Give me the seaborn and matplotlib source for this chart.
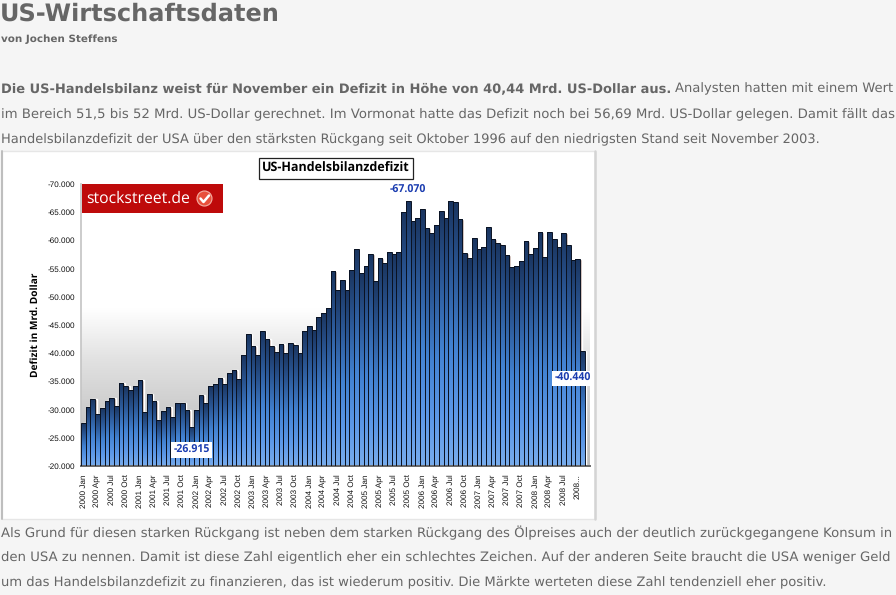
import numpy as np
import pandas as pd
import matplotlib
matplotlib.use('Agg')
import matplotlib.pyplot as plt
import seaborn as sns
from matplotlib.colors import LinearSegmentedColormap
from matplotlib.patches import Rectangle, Circle
from matplotlib.ticker import FuncFormatter

# -------------------------
# Data
# -------------------------
deficit = [
    -27550, -30500, -31800, -29300, -30250, -31450, -32000, -30550, -34650, -34100, -33400, -34150,
    -35300, -29600, -32850, -31500, -28150, -29700, -30400, -28600, -31200, -31200, -29900, -26915,
    -29950, -32500, -31150, -34180, -34540, -35550, -34540, -36430, -37000, -35420, -39680, -43350,
    -41220, -39730, -43880, -42460, -41220, -40210, -41570, -39970, -41860, -41450, -40030, -43990,
    -44760, -44050, -46360, -47190, -47960, -54520, -51150, -52920, -51150, -54700, -58420, -54170,
    -55520, -57530, -52800, -56820, -55930, -57890, -57530, -57890, -64980, -67070, -63490, -63910,
    -65510, -62250, -61250, -62680, -65160, -63910, -66900, -66750, -63790, -57710, -56820, -60370,
    -58420, -58780, -62320, -60190, -59480, -59130, -57360, -55230, -55410, -56290, -59890, -57530,
    -58650, -61490, -57000, -61490, -60190, -58880, -61370, -59130, -56470, -56650, -40440,
]
month_names = ['Jan', 'Feb', 'Mrz', 'Apr', 'Mai', 'Jun', 'Jul', 'Aug', 'Sep', 'Okt', 'Nov', 'Dez']
months = [f'{2000 + i // 12} {month_names[i % 12]}' for i in range(len(deficit))]
tick_pos = list(range(0, 105, 3)) + [105]
tick_labels = [f'{2000 + i // 12} {["Jan", "Apr", "Jul", "Oct"][(i % 12) // 3]}' for i in range(0, 105, 3)] + ['2008...']
y_ticks = [-70000, -65000, -60000, -55000, -50000, -45000, -40000, -35000, -30000, -25000, -20000]

df = pd.DataFrame({'month': months, 'deficit': deficit})


def german(v, pos=None):
    return f'{v:,.0f}'.replace(',', '.')


sns.set_style('white')
plt.rcParams['font.family'] = ['Liberation Sans', 'DejaVu Sans']
plt.rcParams['text.hinting'] = 'no_hinting'

W, H = 896, 595
fig = plt.figure(figsize=(W / 100, H / 100), dpi=100, facecolor='#F5F5F5')

# page layer in pixel coordinates
page = fig.add_axes([0, 0, 1, 1], zorder=0)
page.set_xlim(0, W)
page.set_ylim(H, 0)
page.axis('off')
page.add_patch(Rectangle((1.5, 150.5), 593.5, 368, facecolor='white', edgecolor='#E6E6E6', linewidth=1))
page.plot([1.5, 1.5], [150.5, 518.5], color='#BDBDBD', linewidth=1.4)
page.plot([595, 595], [150.5, 518.5], color='#D4D4D4', linewidth=1.8)

# -------------------------
# Bar chart
# -------------------------
ax = fig.add_axes([81 / W, 1 - 466 / H, 508.5 / W, 282 / H], zorder=1)
ax.patch.set_alpha(0)

bg_cmap = LinearSegmentedColormap.from_list('bg', [(0, '#FFFFFF'), (0.44, '#FFFFFF'), (0.62, '#E2E2E2'),
                                                   (0.82, '#CACACA'), (1, '#BABABA')])
ax.imshow(np.linspace(0, 1, 256).reshape(-1, 1), cmap=bg_cmap, aspect='auto', extent=(0, 1, 0, 1),
          transform=ax.transAxes, zorder=0)

# tan shadow that sits just right of every bar
ax.bar(np.arange(len(deficit)) + 0.35, deficit, width=1, color='#C9B6B0', zorder=1)

sns.barplot(data=df, x='month', y='deficit', ax=ax, width=1, color='#2a5590', saturation=1,
            edgecolor='#0A1222', linewidth=0.7, zorder=3)

bar_cmap = LinearSegmentedColormap.from_list('bar', [(0, '#1A3560'), (0.25, '#2A5694'), (0.55, '#4282D2'),
                                                     (0.8, '#5C98E8'), (1, '#78ACEC')])
grad = np.linspace(0, 1, 128).reshape(-1, 1)
for bar, val in zip(ax.patches[len(deficit):], deficit):
    x0 = bar.get_x()
    img = ax.imshow(grad, cmap=bar_cmap, aspect='auto', zorder=2,
                    extent=(x0, x0 + bar.get_width(), -20000, val))
    img.set_clip_path(bar)
    bar.set_facecolor('none')

ax.set_xlim(-0.5, 107.5)
ax.set_ylim(-20000, -70000)
ax.set_xlabel('')
ax.set_ylabel('Defizit in Mrd. Dollar', fontsize=7.3, fontweight='bold', color='black', labelpad=5,
              fontfamily=['Open Sans', 'DejaVu Sans'])
ax.set_xticks(tick_pos)
ax.set_xticklabels(tick_labels, rotation=90, fontsize=5.9, color='#111111', fontweight='normal')
ax.set_yticks(y_ticks)
ax.yaxis.set_major_formatter(FuncFormatter(german))
ax.tick_params(axis='x', length=0, pad=6)
ax.tick_params(axis='y', length=3, width=0.6, color='#888888', labelsize=5.9, labelcolor='#111111', pad=1.5)
for side in ['top', 'right']:
    ax.spines[side].set_visible(False)
ax.spines['left'].set_color('#C4C4C4')
ax.spines['left'].set_linewidth(1.2)
ax.spines['bottom'].set_color('#666666')
ax.spines['bottom'].set_linewidth(1.4)

# value labels
hi = int(np.argmin(deficit))
lo = int(np.argmax(deficit))
last = len(deficit) - 1
blue = '#1A3CB0'
label_font = dict(ha='center', va='center', fontsize=7.6, fontweight='bold', color=blue, zorder=6,
                  annotation_clip=False, fontfamily=['Open Sans', 'DejaVu Sans'], textcoords='offset points')
box = dict(facecolor='white', edgecolor='none', pad=1.5)
ax.annotate(german(deficit[hi]), (hi, deficit[hi]), xytext=(0, 7.5), **label_font)
ax.annotate(german(deficit[lo]), (lo, deficit[lo]), xytext=(0, -16.5), bbox=box, **label_font)
ax.annotate(german(deficit[last]), (last, deficit[last]), xytext=(-7, -20), bbox=box, **label_font)

# -------------------------
# Overlay: chart title, logo, page text
# -------------------------
top = fig.add_axes([0, 0, 1, 1], zorder=2)
top.set_xlim(0, W)
top.set_ylim(H, 0)
top.axis('off')

top.add_patch(Rectangle((258.5, 157.5), 154, 21, facecolor='white', edgecolor='#222222', linewidth=0.9))
top.text(335.5, 168.5, 'US-Handelsbilanzdefizit', ha='center', va='center', fontsize=9, fontweight='bold',
         color='black', fontfamily=['Open Sans', 'DejaVu Sans'])

top.add_patch(Rectangle((82, 184), 140.5, 29, facecolor='#BE0A0A', edgecolor='none'))
top.text(86, 198.5, 'stockstreet.de', ha='left', va='center', fontsize=11.3, color='white',
         fontfamily=['Open Sans', 'DejaVu Sans'])
top.add_patch(Circle((204.5, 198.5), 7.5, facecolor='#E8503C', edgecolor='#F4B0A4', linewidth=0.8))
top.plot([200.5, 203.5, 209], [198.5, 202, 195.5], color='white', linewidth=1.8, solid_capstyle='round')

renderer = fig.canvas.get_renderer()


def page_text(x0, x1, y, s, size, weight='normal'):
    # fit the line to the width it has in the reference
    t = top.text(x0, y, s, ha='left', va='center', fontsize=size, fontweight=weight, color='#666666',
                 fontfamily='DejaVu Sans')
    for _ in range(4):
        t.set_fontsize(t.get_fontsize() * (x1 - x0) / t.get_window_extent(renderer).width)
    return t


page_text(0, 280, 14, 'US-Wirtschaftsdaten', 18, 'bold')
page_text(1, 117, 39.5, 'von Jochen Steffens', 7, 'bold')
page_text(1, 669, 89, 'Die US-Handelsbilanz weist für November ein Defizit in Höhe von 40,44 Mrd. US-Dollar aus.', 9.4, 'bold')
page_text(675, 893, 89, 'Analysten hatten mit einem Wert', 9.4)
page_text(1, 897, 115, 'im Bereich 51,5 bis 52 Mrd. US-Dollar gerechnet. Im Vormonat hatte das Defizit noch bei 56,69 Mrd. US-Dollar gelegen. Damit fällt das', 9.4)
page_text(1, 823, 139.5, 'Handelsbilanzdefizit der USA über den stärksten Rückgang seit Oktober 1996 auf den niedrigsten Stand seit November 2003.', 9.4)
page_text(1, 893, 532.5, 'Als Grund für diesen starken Rückgang ist neben dem starken Rückgang des Ölpreises auch der deutlich zurückgegangene Konsum in', 9.4)
page_text(1, 884, 558, 'den USA zu nennen. Damit ist diese Zahl eigentlich eher ein schlechtes Zeichen. Auf der anderen Seite braucht die USA weniger Geld', 9.4)
page_text(1, 826, 583, 'um das Handelsbilanzdefizit zu finanzieren, das ist wiederum positiv. Die Märkte werteten diese Zahl tendenziell eher positiv.', 9.4)

fig.savefig('out.png', dpi=100, facecolor=fig.get_facecolor())
